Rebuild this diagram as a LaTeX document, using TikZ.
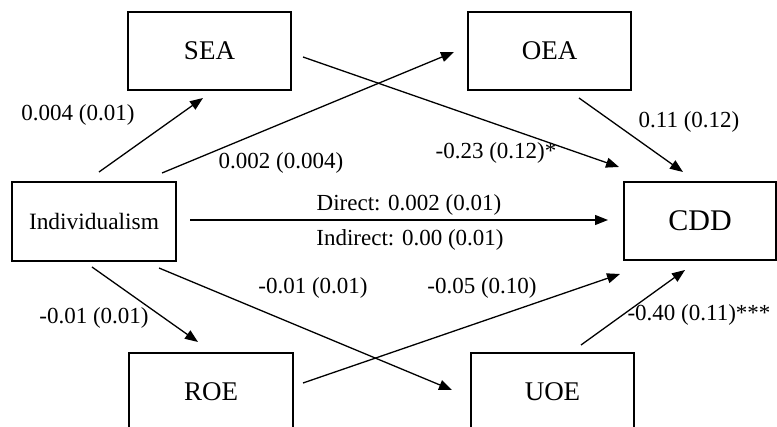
\documentclass[tikz,border=0pt]{standalone}
\usepackage{fontspec}
\setmainfont{Liberation Serif}
\usetikzlibrary{arrows.meta}
\begin{document}
\begin{tikzpicture}[x=1pt,y=-1pt,
  box/.style={draw,line width=1.3pt,minimum height=78pt,inner sep=0pt,font=\fontsize{27}{30}\selectfont},
  conn/.style={line width=1.3pt,-{Triangle[length=13pt,width=10pt]}},
  lbl/.style={inner sep=0pt,font=\fontsize{23}{26}\selectfont}]
\useasboundingbox (0,0) rectangle (777,427);
% boxes
\node[box,minimum width=163pt] (sea) at (209.5,51) {SEA};
\node[box,minimum width=163pt] (oea) at (549.5,51) {OEA};
\node[box,minimum width=164pt,minimum height=79pt,font=\fontsize{23.4}{26}\selectfont] (ind) at (94,221.5) {Individualism};
\node[box,minimum width=152pt,font=\fontsize{30}{33}\selectfont] (cdd) at (700,221) {CDD};
\node[box,minimum width=164pt] (roe) at (211,392) {ROE};
\node[box,minimum width=163pt] (uoe) at (552.5,392) {UOE};
% connector ends
\coordinate (indS) at (99,172);   \coordinate (seaI) at (203,98);
\coordinate (indO) at (162,173);  \coordinate (oeaI) at (454,52);
\coordinate (seaC) at (303,57);   \coordinate (cddS) at (619,167);
\coordinate (oeaC) at (579,98);   \coordinate (cddO) at (683,172);
\coordinate (indC) at (190,220);  \coordinate (cddI) at (608,220);
\coordinate (indR) at (92,267);   \coordinate (roeI) at (198,342);
\coordinate (indU) at (159,268);  \coordinate (uoeI) at (452,390);
\coordinate (roeC) at (303,383);  \coordinate (cddR) at (620,274);
\coordinate (uoeC) at (581,345);  \coordinate (cddU) at (685,270);
% connectors
\draw[conn] (indS) -- (seaI);
\draw[conn] (indO) -- (oeaI);
\draw[conn] (seaC) -- (cddS);
\draw[conn] (oeaC) -- (cddO);
\draw[conn] (indC) -- (cddI);
\draw[conn] (indR) -- (roeI);
\draw[conn] (indU) -- (uoeI);
\draw[conn] (roeC) -- (cddR);
\draw[conn] (uoeC) -- (cddU);
% labels
\node[lbl] (l1) at (78,115) {0.004 (0.01)};
\node[lbl] (l2) at (281,163) {0.002 (0.004)};
\node[lbl] (l3) at (496,153) {-0.23 (0.12)*};
\node[lbl] (l4) at (689,122) {0.11 (0.12)};
\node[lbl] (l5) at (409,205) {Direct: 0.002 (0.01)};
\node[lbl] (l6) at (410,240) {Indirect: 0.00 (0.01)};
\node[lbl] (l7) at (94,318) {-0.01 (0.01)};
\node[lbl] (l8) at (313,288) {-0.01 (0.01)};
\node[lbl] (l9) at (482,288) {-0.05 (0.10)};
\node[lbl] (l10) at (699,315) {-0.40 (0.11)***};
\end{tikzpicture}
\end{document}
